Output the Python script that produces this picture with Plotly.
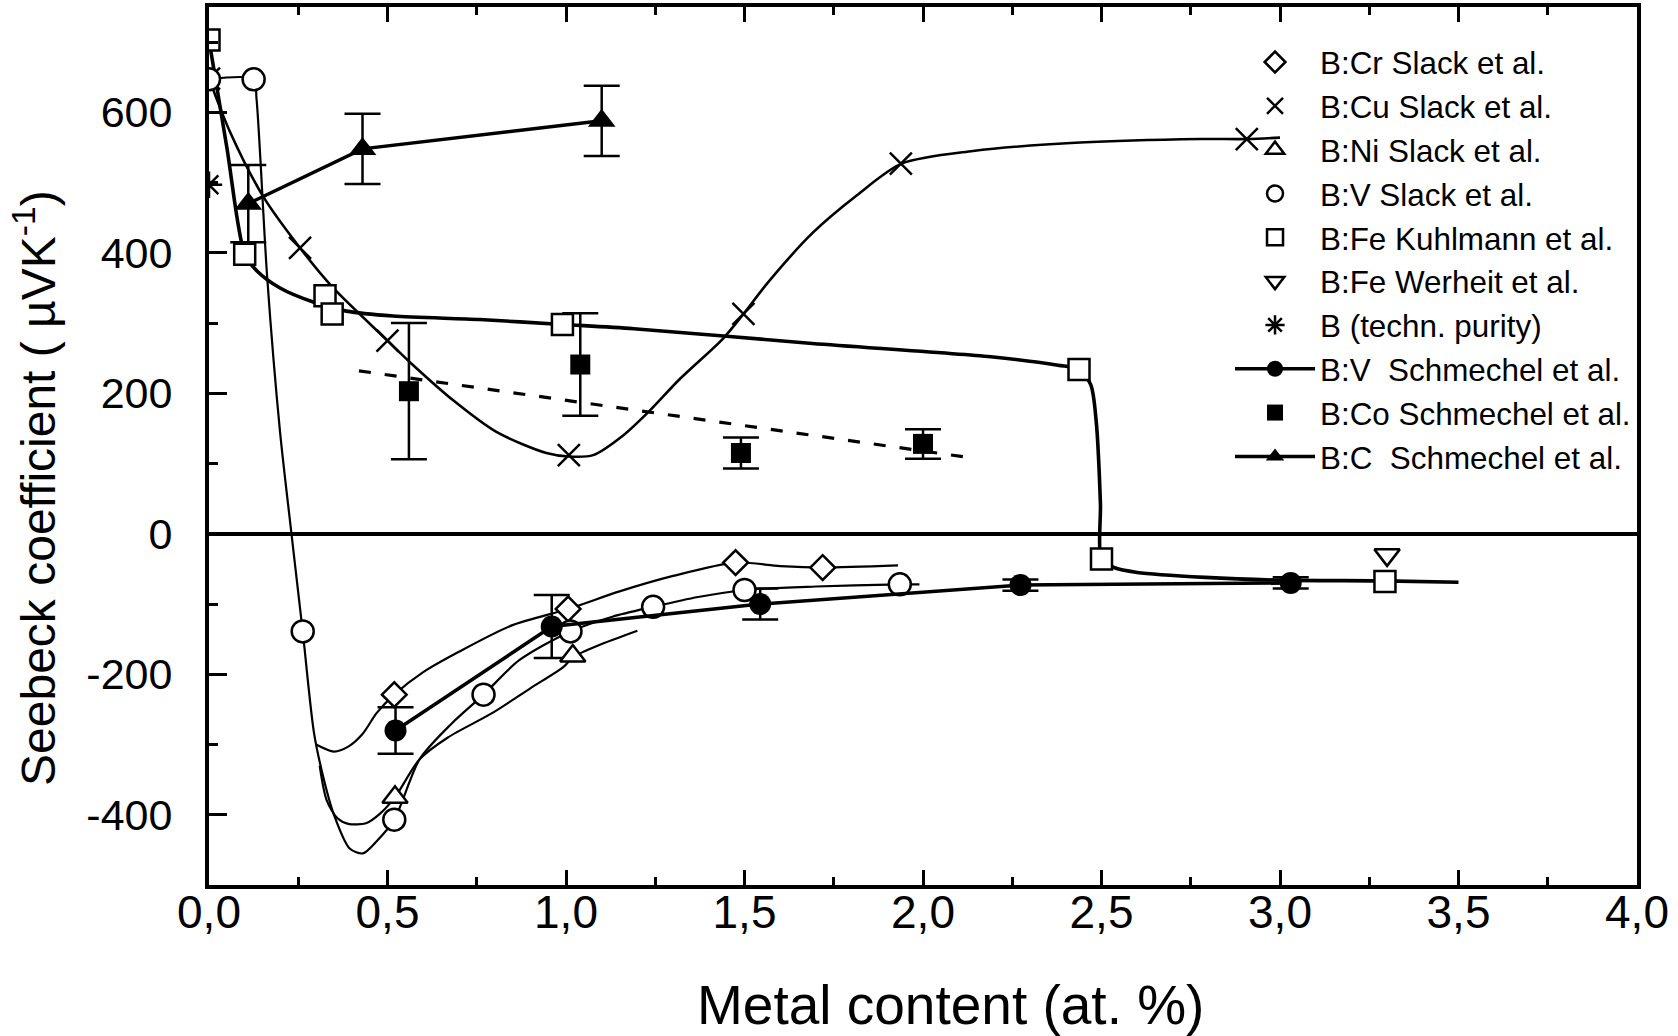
import plotly.graph_objects as go

# ---------------- data ----------------
# measured points (markers)
cr_x = [0.519, 1.006, 1.475, 1.719]
cr_y = [-229, -107, -41, -48]
cu_x = [0.0, 0.255, 0.50, 1.008, 1.497, 1.938, 2.907]
cu_y = [648, 407, 275, 112, 313, 527, 562]
ni_x = [0.521, 1.019]
ni_y = [-375, -174]
vs_x = [0.0, 0.125, 0.2625, 0.519, 0.769, 1.0125, 1.244, 1.50, 1.935]
vs_y = [647, 647, -139, -407, -229, -139, -104, -80, -72]
fek_x = [0.0, 0.10, 0.325, 0.345, 0.99, 2.437, 2.50, 3.294]
fek_y = [703, 398, 339, 313, 298, 234, -36, -68]
few_x = [3.30]
few_y = [-30]
bt_x = [0.0]
bt_y = [497]
vsch_x = [0.5225, 0.96, 1.544, 2.273, 3.03]
vsch_y = [-280, -132, -100, -73, -70]
vsch_err = [33, 45, 22, 8, 8]
co_x = [0.56, 1.04, 1.49, 2.0]
co_y = [203, 241, 115, 128]
co_err = [97, 73, 22, 21]
c_x = [0.11, 0.43, 1.10]
c_y = [470, 548, 588]
c_err = [55, 50, 50]

# guide-to-the-eye curves
cu_curve_x = [0.0, 0.059, 0.152, 0.255, 0.348, 0.50, 0.572, 0.684, 0.805, 0.945, 1.008, 1.076,
              1.16, 1.234, 1.318, 1.44, 1.497, 1.566, 1.69, 1.815, 1.94, 2.14, 2.44, 2.776, 2.907, 3.0]
cu_curve_y = [648, 572, 480, 407, 350, 275, 240, 190, 145, 115, 110, 112,
              140, 175, 220, 278, 313, 358, 428, 482, 527, 545, 557, 562, 562, 564]
fe_curve_x = [0.0, 0.05, 0.10, 0.133, 0.199, 0.292, 0.385, 0.516, 0.758, 0.99, 1.19, 1.69, 2.19,
              2.378, 2.437, 2.47, 2.485, 2.497, 2.50, 2.535, 2.6, 2.79, 3.0, 3.29, 3.5]
fe_curve_y = [703, 550, 398, 375, 350, 330, 317, 310, 305, 298, 292, 271, 252,
              240, 234, 212, 161, 43, -36, -48, -55, -62, -66, -67, -69]
vs_curve_x = [0.0, 0.125, 0.133, 0.163, 0.199, 0.231, 0.2625, 0.294, 0.319, 0.35, 0.394, 0.431,
              0.469, 0.519, 0.59, 0.68, 0.769, 0.869, 1.0125, 1.13, 1.244, 1.37, 1.50, 1.70, 1.935, 1.99]
vs_curve_y = [647, 647, 620, 365, 145, 0, -139, -283, -344, -400, -448, -455,
              -438, -407, -321, -270, -229, -180, -139, -118, -104, -90, -80, -75, -72, -72]
ni_curve_x = [0.31, 0.33, 0.36, 0.39, 0.44, 0.48, 0.521, 0.59, 0.669, 0.794, 0.90, 0.994, 1.019, 1.1, 1.2]
ni_curve_y = [-330, -380, -405, -413, -412, -398, -375, -321, -290, -255, -220, -189, -176, -157, -138]
cr_curve_x = [0.30, 0.35, 0.39, 0.43, 0.47, 0.519, 0.6, 0.7, 0.85, 1.006, 1.15, 1.3, 1.475, 1.6, 1.719, 1.93]
cr_curve_y = [-300, -310, -303, -285, -255, -229, -197, -168, -130, -107, -82, -60, -41, -46, -48, -45]
co_fit_x = [0.42, 2.15]
co_fit_y = [232, 107]

# axis ticks
x_ticks = [0.0, 0.5, 1.0, 1.5, 2.0, 2.5, 3.0, 3.5, 4.0]
x_ticktext = ["0,0", "0,5", "1,0", "1,5", "2,0", "2,5", "3,0", "3,5", "4,0"]
y_ticks = [-400, -200, 0, 200, 400, 600]
y_ticktext = ["-400", "-200", "0", "200", "400", "600"]

legend_names = ["B:Cr Slack et al.", "B:Cu Slack et al.", "B:Ni Slack et al.", "B:V Slack et al.",
                "B:Fe Kuhlmann et al.", "B:Fe Werheit et al.", "B (techn. purity)",
                "B:V\u00a0 Schmechel et al.", "B:Co Schmechel et al.", "B:C\u00a0 Schmechel et al."]

FONT = "Liberation Sans, Arial, sans-serif"
BLK = "black"

fig = go.Figure()

# guide curves (no legend)
def curve(x, y, w, dash="solid", shape="spline"):
    fig.add_trace(go.Scatter(x=x, y=y, mode="lines", showlegend=False, hoverinfo="skip",
                             line=dict(color=BLK, width=w, dash=dash, shape=shape, smoothing=0.8)))

curve(vs_curve_x, vs_curve_y, 2.2)
curve(ni_curve_x, ni_curve_y, 2.2)
curve(cr_curve_x, cr_curve_y, 2.2)
curve(cu_curve_x, cu_curve_y, 2.6)
curve(fe_curve_x, fe_curve_y, 3.6)
curve(co_fit_x, co_fit_y, 3.2, dash="12px,14px", shape="linear")

# error bars (separate, no legend)
def errs(x, y, e):
    fig.add_trace(go.Scatter(x=x, y=y, mode="markers", showlegend=False, hoverinfo="skip",
                             marker=dict(size=1, color="rgba(0,0,0,0)"),
                             error_y=dict(type="data", array=e, visible=True, color=BLK,
                                          thickness=2.5, width=18)))

errs(vsch_x, vsch_y, vsch_err)
errs(co_x, co_y, co_err)
errs(c_x, c_y, c_err)

def pts(x, y, name, rank, symbol, size, fill="white", lw=2.5, mode="markers", linew=0):
    kw = {}
    if mode != "markers":
        kw["line"] = dict(color=BLK, width=linew)
    fig.add_trace(go.Scatter(x=x, y=y, mode=mode, name=name, legendrank=rank,
                             marker=dict(symbol=symbol, size=size, color=fill,
                                         line=dict(color=BLK, width=lw)), **kw))

pts(cr_x, cr_y, legend_names[0], 1, "diamond", 19)
pts(cu_x, cu_y, legend_names[1], 2, "x-thin", 22)
pts(ni_x, ni_y, legend_names[2], 3, "triangle-up", 22)
pts(vs_x, vs_y, legend_names[3], 4, "circle", 22)
pts(fek_x, fek_y, legend_names[4], 5, "square", 21)
pts(few_x, few_y, legend_names[5], 6, "triangle-down", 22)
pts(bt_x, bt_y, legend_names[6], 7, "asterisk", 22)
pts(vsch_x, vsch_y, legend_names[7], 8, "circle", 22, fill=BLK, lw=0, mode="lines+markers", linew=3.5)
pts(co_x, co_y, legend_names[8], 9, "square", 20, fill=BLK, lw=0)
pts(c_x, c_y, legend_names[9], 10, "triangle-up", 24, fill=BLK, lw=0, mode="lines+markers", linew=3.5)

fig.add_annotation(text="Seebeck coefficient ( \u00b5VK<sup>-1</sup>)", xref="paper", yref="paper",
                   x=-0.122, y=0.452, textangle=-90, showarrow=False,
                   font=dict(family=FONT, size=48, color=BLK), xanchor="center", yanchor="middle")
fig.add_annotation(text="Metal content (at. %)", xref="paper", yref="paper",
                   x=0.519, y=-0.137, showarrow=False,
                   font=dict(family=FONT, size=55, color=BLK), xanchor="center", yanchor="middle")

fig.update_layout(
    width=1678, height=1036,
    margin=dict(l=209, r=41, t=3, b=151),
    paper_bgcolor="white", plot_bgcolor="white",
    font=dict(family=FONT, color=BLK),
    legend=dict(x=0.715, y=0.968, xanchor="left", yanchor="top", bgcolor="rgba(0,0,0,0)",
                font=dict(family=FONT, size=31.4, color=BLK), itemwidth=80,
                tracegroupgap=0),
    xaxis=dict(range=[0, 4], showgrid=False, zeroline=False, showline=True, linewidth=4,
               linecolor=BLK, mirror="ticks", ticks="inside", ticklen=15, tickwidth=3,
               tickcolor=BLK, tickmode="array", tickvals=x_ticks, ticktext=x_ticktext,
               tickfont=dict(family=FONT, size=46, color=BLK), ticklabelstandoff=-16,
               minor=dict(ticks="inside", ticklen=8, tickwidth=3, tickcolor=BLK,
                          tickmode="linear", tick0=0, dtick=0.25)),
    yaxis=dict(range=[-500, 750], showgrid=False, zeroline=True, zerolinewidth=4,
               zerolinecolor=BLK, showline=True, linewidth=4, linecolor=BLK, mirror=True,
               ticks="inside", ticklen=18, tickwidth=3, tickcolor=BLK,
               tickmode="array", tickvals=y_ticks, ticktext=y_ticktext,
               tickfont=dict(family=FONT, size=43, color=BLK), ticklabelstandoff=24,
               minor=dict(ticks="inside", ticklen=9, tickwidth=3, tickcolor=BLK,
                          tickmode="linear", tick0=0, dtick=100)),
)

fig.write_html("out.html", config={"displayModeBar": False},
               post_script="document.body.style.margin='0px';")
